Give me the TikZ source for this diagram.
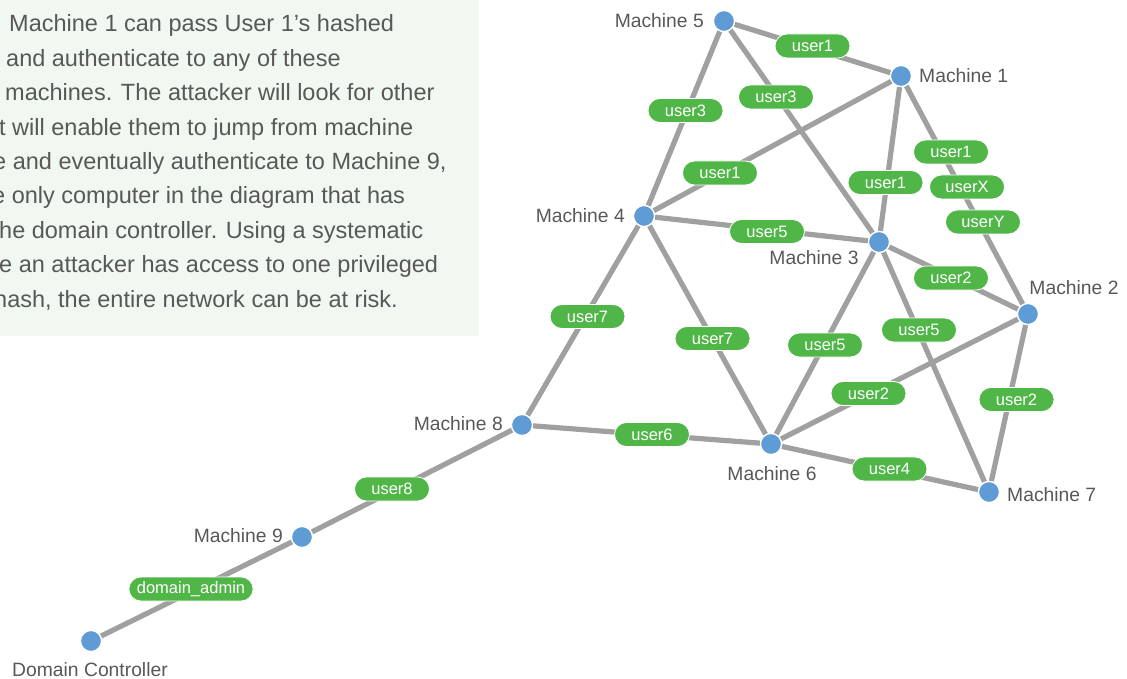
\documentclass[tikz,border=0pt]{standalone}
\usepackage{fontspec}
\setmainfont{Liberation Sans}
\usetikzlibrary{backgrounds}
\definecolor{edgegray}{RGB}{160,160,160}
\definecolor{pillgreen}{RGB}{80,182,72}
\definecolor{dotblue}{RGB}{95,155,212}
\definecolor{txtgray}{RGB}{88,88,88}
\definecolor{boxgreen}{RGB}{241,247,241}
\begin{document}
\begin{tikzpicture}[x=1pt,y=-1pt,
 dot/.style={circle,fill=dotblue,draw=white,line width=1.2pt,minimum size=21pt,inner sep=0pt},
 link/.style={draw=edgegray,line width=5.2pt},
 pill/.style={fill=pillgreen,draw=white,line width=0.8pt,text=white,rounded corners=12pt,minimum width=75pt,minimum height=24pt,inner xsep=8pt,inner ysep=0pt,font=\fontsize{16.5}{17}\selectfont},
 mlabel/.style={text=txtgray,font=\fontsize{19.3}{20}\selectfont,inner sep=0pt},
 para/.style={text=txtgray,font=\fontsize{23.5}{26}\selectfont,inner sep=0pt,anchor=base west}]
\useasboundingbox (0,0) rectangle (1127,679);

% machines
\node[dot] (m5) at (724,21) {};
\node[dot] (m1) at (901,76) {};
\node[dot] (m4) at (644,216) {};
\node[dot] (m3) at (879,242) {};
\node[dot] (m2) at (1028,314) {};
\node[dot] (m8) at (522,425) {};
\node[dot] (m6) at (771,444) {};
\node[dot] (m7) at (989,492) {};
\node[dot] (m9) at (302,537) {};
\node[dot] (dc) at (91,641) {};

% machine labels
\node[mlabel,anchor=east] (l5) at (704,21) {Machine 5};
\node[mlabel,anchor=west] (l1) at (919,76) {Machine 1};
\node[mlabel,anchor=east] (l4) at (625,216) {Machine 4};
\node[mlabel] (l3) at (814,258) {Machine 3};
\node[mlabel] (l2) at (1074,288) {Machine 2};
\node[mlabel,anchor=east] (l8) at (503,424) {Machine 8};
\node[mlabel] (l6) at (772,474) {Machine 6};
\node[mlabel,anchor=west] (l7) at (1007,495) {Machine 7};
\node[mlabel,anchor=east] (l9) at (283,536) {Machine 9};
\node[mlabel] (ldc) at (90,670) {Domain Controller};

\begin{scope}[on background layer]
  \fill[boxgreen] (0,0) rectangle (479,336);
  \begin{scope}
    \clip (0,0) rectangle (479,336);
    \node[para] (t1) at (9,32) {Machine 1 can pass User 1’s hashed};
    \node[para] (t2) at (6,66.4) {and authenticate to any of these};
    \node[para] (t3) at (5,100.8) {machines. The attacker will look for other};
    \node[para] (t4) at (-1,135.2) {t will enable them to jump from machine};
    \node[para] (t5) at (-7,169.6) {e and eventually authenticate to Machine 9,};
    \node[para] (t6) at (-8,204) {e only computer in the diagram that has};
    \node[para] (t7) at (-1,238.4) {he domain controller. Using a systematic};
    \node[para] (t8) at (-1,272.8) {e an attacker has access to one privileged};
    \node[para] (t9) at (-6,307.2) {hash, the entire network can be at risk.};
  \end{scope}
  \draw[link] (m5) -- (m1);
  \draw[link] (m5) -- (m4);
  \draw[link] (m5) -- (m3);
  \draw[link] (m1) -- (m4);
  \draw[link] (m1) -- (m3);
  \draw[link] (m1) -- (m2);
  \draw[link] (m4) -- (m3);
  \draw[link] (m4) -- (m8);
  \draw[link] (m4) -- (m6);
  \draw[link] (m3) -- (m2);
  \draw[link] (m3) -- (m6);
  \draw[link] (m3) -- (m7);
  \draw[link] (m2) -- (m6);
  \draw[link] (m2) -- (m7);
  \draw[link] (m8) -- (m6);
  \draw[link] (m6) -- (m7);
  \draw[link] (m8) -- (m9);
  \draw[link] (m9) -- (dc);
\end{scope}

% user pills
\node[pill] (p51) at (812.5,46) {user1};
\node[pill] (p54) at (685.5,110.5) {user3};
\node[pill] (p53) at (776,97) {user3};
\node[pill] (p14) at (720,173) {user1};
\node[pill] (p13) at (885.5,182.5) {user1};
\node[pill] (p12a) at (951,152) {user1};
\node[pill] (p12b) at (967,187) {userX};
\node[pill] (p12c) at (983,222) {userY};
\node[pill] (p43) at (767,231.5) {user5};
\node[pill] (p48) at (587.5,316.5) {user7};
\node[pill] (p46) at (712.5,338.5) {user7};
\node[pill] (p32) at (951,278) {user2};
\node[pill] (p37) at (919,330) {user5};
\node[pill] (p36) at (825,345) {user5};
\node[pill] (p26) at (868.5,393.5) {user2};
\node[pill] (p27) at (1016.5,399.5) {user2};
\node[pill] (p86) at (652,434.5) {user6};
\node[pill] (p67) at (889.5,469) {user4};
\node[pill] (p89) at (392,489) {user8};
\node[pill] (p9d) at (191,589) {domain\_admin};
\end{tikzpicture}
\end{document}
